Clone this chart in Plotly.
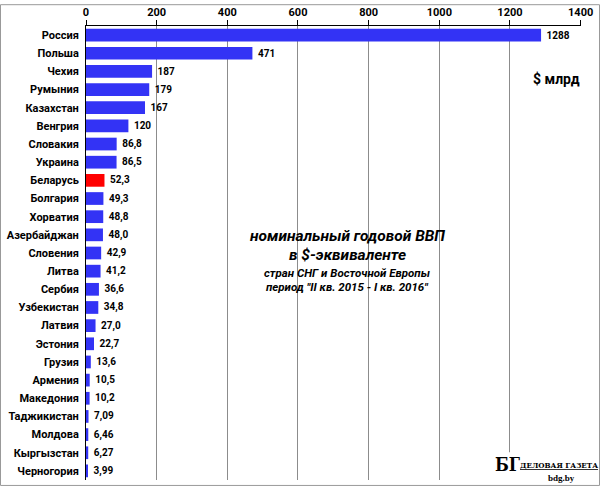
import plotly.graph_objects as go

countries = ['Россия', 'Польша', 'Чехия', 'Румыния', 'Казахстан', 'Венгрия', 'Словакия',
             'Украина', 'Беларусь', 'Болгария', 'Хорватия', 'Азербайджан', 'Словения',
             'Литва', 'Сербия', 'Узбекистан', 'Латвия', 'Эстония', 'Грузия', 'Армения',
             'Македония', 'Таджикистан', 'Молдова', 'Кыргызстан', 'Черногория']
gdp = [1288, 471, 187, 179, 167, 120, 86.8, 86.5, 52.3, 49.3, 48.8, 48.0, 42.9,
       41.2, 36.6, 34.8, 27.0, 22.7, 13.6, 10.5, 10.2, 7.09, 6.46, 6.27, 3.99]
gdp_labels = ['1288', '471', '187', '179', '167', '120', '86,8', '86,5', '52,3', '49,3',
              '48,8', '48,0', '42,9', '41,2', '36,6', '34,8', '27,0', '22,7', '13,6',
              '10,5', '10,2', '7,09', '6,46', '6,27', '3,99']
x_ticks = [0, 200, 400, 600, 800, 1000, 1200, 1400]

W, H = 600, 486
L, R, T, B = 86, 19, 22, 6
pw, ph = W - L - R, H - T - B


def px(x):
    return (x - L) / pw


def py(y):
    return (H - B - y) / ph


colors = ['#FF0000' if c == 'Беларусь' else '#3333F5' for c in countries]

fig = go.Figure()
fig.add_trace(go.Bar(
    x=gdp, y=countries, orientation='h',
    marker=dict(color=colors, line=dict(width=0)),
    width=0.7,
    text=[' ' + t for t in gdp_labels], textposition='outside', cliponaxis=False,
    textfont=dict(family='Roboto', size=10, color='black', weight='bold'),
))

font_b = dict(family='Roboto', color='black', weight='bold')
fig.update_layout(
    width=W, height=H,
    margin=dict(l=L, r=R, t=T, b=B),
    paper_bgcolor='white', plot_bgcolor='white',
    showlegend=False,
    xaxis=dict(side='top', range=[0, 1401], tickvals=x_ticks,
               showgrid=True, gridcolor='#8c8c8c', gridwidth=1,
               showline=True, linecolor='black', linewidth=1,
               ticks='outside', ticklen=5, tickcolor='black',
               tickfont=dict(size=11, **font_b), zeroline=False),
    yaxis=dict(autorange='reversed', showline=True, linecolor='black', linewidth=1,
               tickfont=dict(size=11, **font_b), ticklabelstandoff=4, showgrid=False),
)


def note(x, y, text, font):
    fig.add_annotation(x=px(x), y=py(y), xref='paper', yref='paper', text=text,
                       showarrow=False, xanchor='center', yanchor='middle', font=font)


note(556, 75, '$ млрд', dict(size=14, **font_b))

title_lines = [('номинальный годовой ВВП', 15.5, 234), ('в $-эквиваленте', 15.5, 253),
               ('стран СНГ и Восточной Европы', 11.5, 271), ('период "II кв. 2015 - I кв. 2016"', 11.5, 285)]
for txt, sz, yy in title_lines:
    note(347, yy, txt, dict(size=sz, style='italic', **font_b))

# логотип
fig.add_shape(type='rect', xref='paper', yref='paper', x0=px(492), x1=px(598),
              y0=py(484), y1=py(452), fillcolor='white', line=dict(width=0))
note(507, 464, 'БГ', dict(family='DejaVu Serif Condensed', size=18, color='black', weight='bold'))
note(559, 465, '<u>ДЕЛОВАЯ ГАЗЕТА</u>',
     dict(family='DejaVu Serif Condensed', size=8, color='black', weight='bold'))
note(561, 478, 'bdg.by', dict(family='Liberation Serif', size=9, color='black', weight='bold'))

fig.add_shape(type='rect', xref='paper', yref='paper', x0=px(0.5), x1=px(599.5),
              y0=py(485.5), y1=py(0.5), line=dict(color='#999999', width=1))

fig.write_html('out.html', config={'displayModeBar': False},
               post_script="document.body.style.margin='0';")
